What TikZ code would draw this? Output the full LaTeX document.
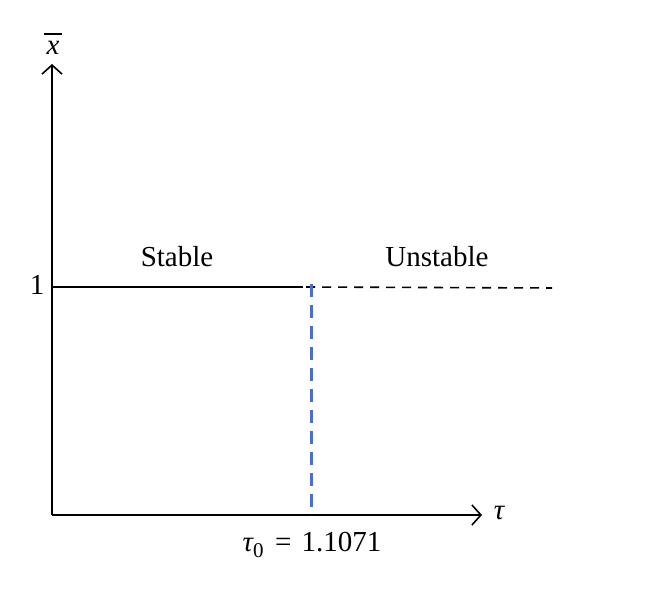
\documentclass[tikz,border=0pt]{standalone}
\usepackage{fontspec}
\setmainfont{Liberation Serif}
\usetikzlibrary{arrows.meta}
\newcommand{\barx}{\ooalign{\hidewidth\itshape x\hidewidth\cr\rule[0.68em]{0.62em}{0.065em}}}
\begin{document}
\begin{tikzpicture}[x=1pt,y=-1pt,
  axis/.style={line width=1.6pt,-{Straight Barb[length=9pt,width=20pt,line width=1.6pt]}},
  lbl/.style={font=\fontsize{29}{32}\selectfont, inner sep=0pt},
  blueline/.style={line width=2.2pt, color={rgb,255:red,75;green,110;blue,200}, dash pattern=on 13pt off 8pt}]
\useasboundingbox (0,0) rectangle (660,593);
\coordinate (O) at (52,515);
\coordinate (ytop) at (52,64);
\coordinate (xend) at (482,515);
\coordinate (one) at (52,287);
\coordinate (split) at (303,287);
\coordinate (dstart) at (306,287);
\coordinate (dend) at (552,288);
\coordinate (vtop) at (311.5,284);
\coordinate (vbot) at (311.5,515);
\draw[axis] (O) -- (ytop);
\draw[axis] (O) -- (xend);
\draw[line width=1.6pt] (one) -- (split);
\draw[line width=1.6pt, dash pattern=on 9pt off 7pt] (dstart) -- (dend);
\draw[blueline] (vtop) -- (vbot);
\node[lbl, anchor=base] (xbar) at (53,55) {\barx};
\node[lbl] (tau) at (499,513) {\itshape τ};
\node[lbl] (ylab) at (37,285) {1};
\node[lbl] (stable) at (177,257) {Stable};
\node[lbl] (unstable) at (437,257) {Unstable};
\node[lbl] (tau0) at (312,545) {\itshape τ\raisebox{-0.22em}{\upshape\fontsize{21}{21}\selectfont 0}\upshape\hspace{0.4em}=\hspace{0.35em}1.1071};
\end{tikzpicture}
\end{document}
